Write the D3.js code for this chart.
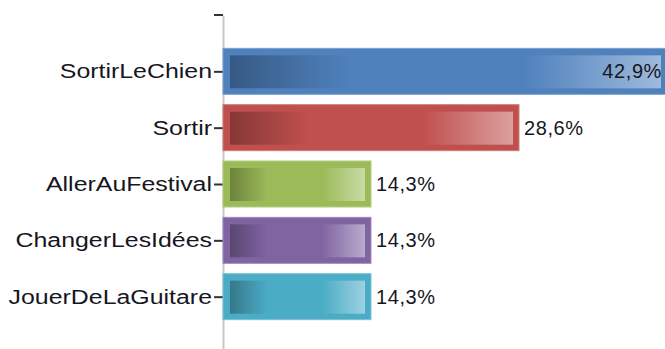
<!DOCTYPE html>
<html>
<head>
<meta charset="utf-8">
<script src="https://cdn.jsdelivr.net/npm/d3@7"></script>
<style>
  html, body { margin: 0; padding: 0; background: #fff; }
  svg { display: block; }
  .lbl { font-family: "Liberation Sans", Arial, sans-serif; font-size: 20px; fill: #16161e; }
</style>
</head>
<body>
<svg id="chart" width="665" height="349"></svg>
<script>
// Activities and their share of answers (percent)
const categories = ["SortirLeChien", "Sortir", "AllerAuFestival", "ChangerLesIdées", "JouerDeLaGuitare"];
const values = [42.9, 28.6, 14.3, 14.3, 14.3];
const valueLabels = ["42,9%", "28,6%", "14,3%", "14,3%", "14,3%"];
const baseColors = ["#4f81bd", "#c0504d", "#9bbb59", "#8064a2", "#4bacc6"];

const W = 665, H = 349;
const svg = d3.select("#chart");

const x = d3.scaleLinear().domain([0, d3.max(values)]).range([223, 667]);
const y = d3.scalePoint().domain(categories).range([15, 353]).padding(1);
const barH = 46;

// Gradients: dark at the start, plain colour in the middle, light at the end
const defs = svg.append("defs");
baseColors.forEach((c, i) => {
  const base = d3.color(c);
  const dark = d3.interpolateRgb(c, "#000")(0.3);
  const light = d3.interpolateRgb(c, "#fff")(0.45);
  const g = defs.append("linearGradient").attr("id", "grad" + i)
    .attr("x1", "0%").attr("x2", "100%").attr("y1", "0%").attr("y2", "0%");
  g.append("stop").attr("offset", "0%").attr("stop-color", dark);
  g.append("stop").attr("offset", "28%").attr("stop-color", base.formatHex());
  g.append("stop").attr("offset", "68%").attr("stop-color", base.formatHex());
  g.append("stop").attr("offset", "100%").attr("stop-color", light);
});

// Category axis
const axis = d3.axisLeft(y).tickSize(9).tickSizeOuter(0).tickPadding(2);
const ax = svg.append("g").attr("transform", `translate(${x(0)},0)`).call(axis);
ax.select(".domain").attr("stroke", "#c8c8c8").attr("stroke-width", 2);
ax.selectAll(".tick line").attr("stroke", "#333").attr("stroke-width", 2);
// Category names are drawn a little wide
ax.selectAll(".tick text").attr("class", "lbl")
  .attr("font-family", null).attr("font-size", null).attr("fill", null)
  .attr("x", null)
  .attr("transform", "translate(-11,0) scale(1.245,1)");
ax.append("line").attr("x1", -9).attr("x2", 0)
  .attr("y1", y.range()[0]).attr("y2", y.range()[0])
  .attr("stroke", "#333").attr("stroke-width", 2);

// Bars
const bars = svg.append("g").selectAll("g").data(categories).join("g")
  .attr("transform", d => `translate(0,${y(d) - barH / 2})`);

bars.append("rect")
  .attr("x", x(0))
  .attr("y", 0)
  .attr("width", (d, i) => x(values[i]) - x(0))
  .attr("height", barH)
  .attr("fill", (d, i) => baseColors[i])
  .attr("stroke", (d, i) => d3.interpolateRgb(baseColors[i], "#fff")(0.25))
  .attr("stroke-width", 1);

bars.append("rect")
  .attr("x", x(0) + 7)
  .attr("y", 7)
  .attr("width", (d, i) => x(values[i]) - x(0) - 13)
  .attr("height", barH - 13)
  .attr("fill", (d, i) => `url(#grad${i})`);

// Value labels: after the bar, or inside its end when it would not fit
bars.append("text")
  .attr("class", "lbl")
  .style("letter-spacing", "0.6px")
  .attr("y", barH / 2)
  .attr("dy", "0.35em")
  .each(function (d, i) {
    const end = x(values[i]);
    const t = d3.select(this).text(valueLabels[i]);
    const w = this.getComputedTextLength();
    if (end + 5 + w > W) {
      t.attr("x", W - 3 - w);
    } else {
      t.attr("x", end + 5);
    }
  });
</script>
</body>
</html>
